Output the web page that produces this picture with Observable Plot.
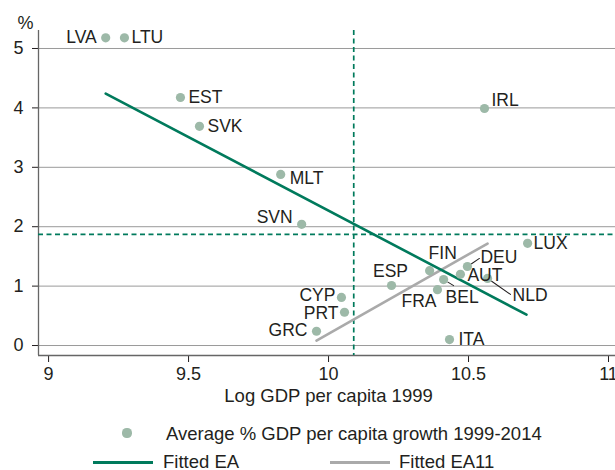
<!DOCTYPE html>
<html>
<head>
<meta charset="utf-8">
<script src="https://cdn.jsdelivr.net/npm/d3@7"></script>
<script src="https://cdn.jsdelivr.net/npm/@observablehq/plot@0.6"></script>
<style>
  html, body { margin: 0; padding: 0; background: #fff; overflow: hidden; }
  body { font-family: "Liberation Sans", Arial, sans-serif; color: #231f20; }
  #wrap { position: relative; width: 615px; height: 470px; overflow: hidden; }
  #chart { position: absolute; left: 0; top: 0; width: 692px; }
  #chart svg { max-width: none !important; width: 692px !important; height: 410px !important; }
  .lg { position: absolute; font-size: 18.5px; line-height: 1; white-space: nowrap; }
  .tick line { stroke: #666; }
</style>
</head>
<body>
<div id="wrap">
  <div id="chart"></div>
  <div id="legend"></div>
</div>
<script>
// ---- Data ----
const countries = ["LVA","LTU","EST","SVK","IRL","MLT","SVN","LUX","FIN","DEU","AUT","NLD","BEL","FRA","ESP","ITA","CYP","PRT","GRC"];
const logGdp1999 = [9.204, 9.271, 9.471, 9.539, 10.557, 9.829, 9.904, 10.711, 10.361, 10.496, 10.471, 10.568, 10.411, 10.389, 10.225, 10.432, 10.046, 10.057, 9.957];
const avgGrowth = [5.18, 5.18, 4.175, 3.69, 3.99, 2.88, 2.04, 1.72, 1.26, 1.33, 1.20, 1.13, 1.11, 0.94, 1.01, 0.10, 0.81, 0.56, 0.24];

const fittedEAx = [9.204, 10.707];
const fittedEAy = [4.24, 0.52];
const fittedEA11x = [9.957, 10.568];
const fittedEA11y = [0.084, 1.717];

const meanLogGdp = 10.09;
const meanGrowth = 1.87;

const xTicks = [9, 9.5, 10, 10.5, 11];
const yTicks = [0, 1, 2, 3, 4, 5];
const xDomain = [8.964, 11.3];
const yDomain = [-0.168, 5.303];

const xTitle = "Log GDP per capita 1999";
const yUnit = "%";
const legendLabels = ["Average % GDP per capita growth 1999-2014", "Fitted EA", "Fitted EA11"];

// ---- Styling / label layout (pixel offsets, not data) ----
const GREEN = "#007a5c", DOT = "#9db9a8", GREY = "#aaaaaa", INK = "#231f20";
const LABEL_FS = 17.5;
const labelLayout = {
  LVA: ["end", -9, 0], LTU: ["start", 7, 0], EST: ["start", 8, 0], SVK: ["start", 8, 0],
  IRL: ["start", 7, -8], MLT: ["start", 9, 4], SVN: ["end", -9, -7], LUX: ["start", 6, 0],
  FIN: ["start", -1, -17], DEU: ["start", 13, -9], AUT: ["start", 7, 1], NLD: ["start", 25, 17],
  BEL: ["start", 2, 18], FRA: ["end", -1, 12], ESP: ["middle", -1, -14], ITA: ["start", 9, 0],
  CYP: ["end", -6, -2], PRT: ["end", -6, 1], GRC: ["end", -9, -1]
};
const leaderLayout = { DEU: [56, 14.5], NLD: [125, 28], BEL: [121, 11.7] };

const points = countries.map((c, i) => ({ c, x: logGdp1999[i], y: avgGrowth[i] }));
const ea = fittedEAx.map((x, i) => ({ x, y: fittedEAy[i] }));
const ea11 = fittedEA11x.map((x, i) => ({ x, y: fittedEA11y[i] }));
const leaders = points.filter(d => leaderLayout[d.c]).map(d => ({ ...d, rot: leaderLayout[d.c][0], len: leaderLayout[d.c][1] }));

const leaderShape = { draw(ctx, l) { ctx.moveTo(0, -5); ctx.lineTo(0, -l); } };

const textMarks = points.map(d => Plot.text([d], {
  x: "x", y: "y", text: "c", textAnchor: labelLayout[d.c][0],
  dx: labelLayout[d.c][1], dy: labelLayout[d.c][2],
  fontSize: LABEL_FS, fill: INK
}));

const plot = Plot.plot({
  width: 692, height: 410,
  marginLeft: 38, marginRight: 0, marginTop: 30, marginBottom: 55,
  style: { fontFamily: "'Liberation Sans', Arial, sans-serif", fontSize: "18px", color: INK, background: "transparent" },
  x: { domain: xDomain, ticks: xTicks, tickSize: 7, tickPadding: 5, tickFormat: d => String(d), label: null },
  y: { domain: yDomain, ticks: yTicks, tickSize: 6, tickPadding: 9, tickFormat: d => String(d), label: null },
  length: { type: "identity" },
  marks: [
    Plot.ruleY(yTicks, { stroke: "#9a9a9a", strokeWidth: 1 }),
    Plot.ruleY([yDomain[0]], { stroke: "#666", strokeWidth: 1.3 }),
    Plot.ruleX([xDomain[0]], { stroke: "#666", strokeWidth: 1.3 }),
    Plot.ruleX([meanLogGdp], { stroke: GREEN, strokeWidth: 1.7, strokeDasharray: "5,3.5" }),
    Plot.ruleY([meanGrowth], { stroke: GREEN, strokeWidth: 1.7, strokeDasharray: "5,3.5" }),
    Plot.line(ea11, { x: "x", y: "y", stroke: GREY, strokeWidth: 2.6 }),
    Plot.line(ea, { x: "x", y: "y", stroke: GREEN, strokeWidth: 2.6 }),
    Plot.dot(points, { x: "x", y: "y", r: 4.6, fill: DOT }),
    Plot.vector(leaders, { x: "x", y: "y", rotate: "rot", length: "len", anchor: "start", shape: leaderShape, stroke: INK, strokeWidth: 1 }),
    ...textMarks,
    Plot.text([yUnit], { frameAnchor: "top-left", dx: -21, dy: -14, fontSize: 18, fill: INK }),
    Plot.text([xTitle], { x: () => 10.0, frameAnchor: "bottom", dy: 46, fontSize: 18.5, fill: INK })
  ]
});
document.getElementById("chart").appendChild(plot);

// ---- Legend (HTML below the SVG) ----
const lg = document.getElementById("legend");
function add(html) { lg.insertAdjacentHTML("beforeend", html); }
add(`<div style="position:absolute;left:${127-4.6}px;top:${433-4.6}px;width:9.2px;height:9.2px;border-radius:50%;background:${DOT}"></div>`);
add(`<div class="lg" style="left:166px;top:${434-9.5}px">${legendLabels[0]}</div>`);
add(`<div style="position:absolute;left:93px;top:${462-1.5}px;width:60px;height:3px;background:${GREEN}"></div>`);
add(`<div class="lg" style="left:163px;top:${462-9.5}px">${legendLabels[1]}</div>`);
add(`<div style="position:absolute;left:330px;top:${462-1.5}px;width:60px;height:3px;background:${GREY}"></div>`);
add(`<div class="lg" style="left:399px;top:${462-9.5}px">${legendLabels[2]}</div>`);
</script>
</body>
</html>
